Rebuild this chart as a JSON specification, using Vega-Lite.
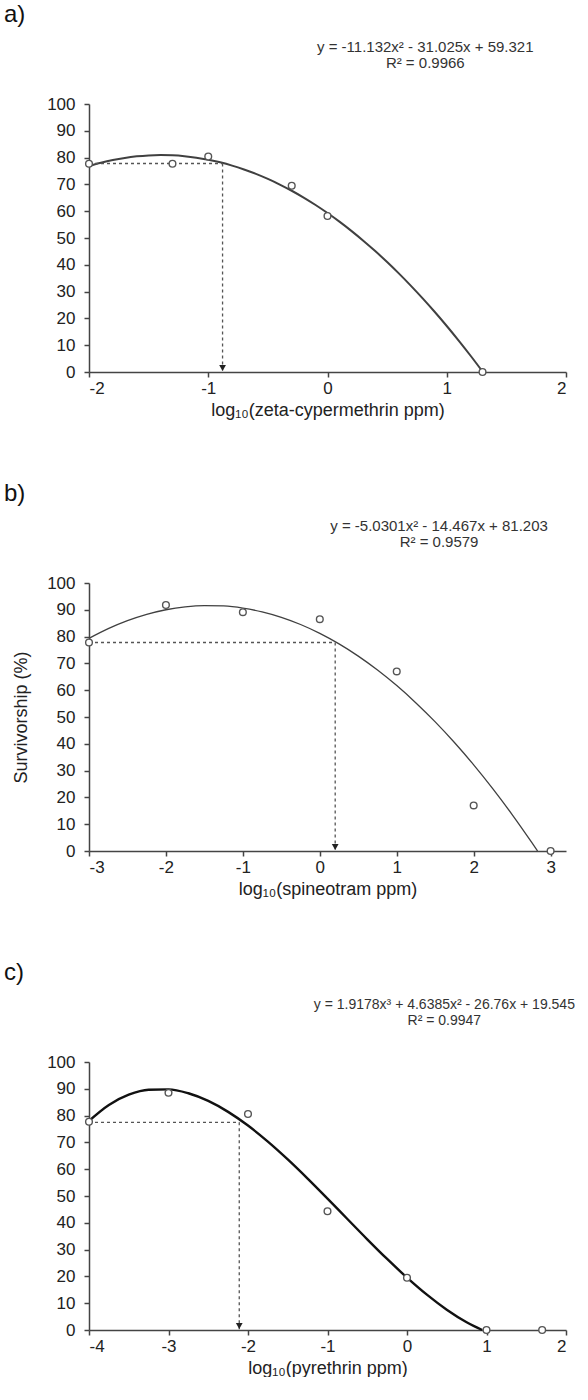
{
  "$schema": "https://vega.github.io/schema/vega-lite/v6.json",
  "padding": {"left": 3, "top": 3, "right": 0, "bottom": 0},
  "background": "white",
  "bounds": "flush",
  "spacing": 211,
  "config": {
    "view": {"stroke": null},
    "font": "Liberation Sans",
    "axis": {
      "grid": false,
      "domainColor": "#444444",
      "tickColor": "#444444",
      "domainWidth": 1.5,
      "tickWidth": 1.5,
      "tickSize": 5,
      "labelFont": "Liberation Sans",
      "labelFontSize": 17,
      "labelColor": "#222222",
      "titleFont": "Liberation Sans",
      "titleFontSize": 18,
      "titleFontWeight": "normal",
      "titleColor": "#222222",
      "labelExpr": "'' + datum.value"
    }
  },
  "vconcat": [
    {
      "width": 477,
      "height": 268,
      "encoding": {
        "x": {"field": "x", "type": "quantitative", "scale": {"domain": [-2, 2], "nice": false},
              "axis": {"values": [-2, -1, 0, 1, 2], "title": "log₁₀(zeta-cypermethrin ppm)", "labelPadding": 3, "titlePadding": 5}},
        "y": {"field": "y", "type": "quantitative", "scale": {"domain": [0, 100], "nice": false},
              "axis": {"values": [0, 10, 20, 30, 40, 50, 60, 70, 80, 90, 100], "title": null, "labelPadding": 9}}
      },
      "layer": [
        {
          "data": {"values": [
            {"x": -2.0, "y": 76.84}, {"x": -1.9, "y": 78.08}, {"x": -1.8, "y": 79.1}, {"x": -1.7, "y": 79.89},
            {"x": -1.6, "y": 80.46}, {"x": -1.5, "y": 80.81}, {"x": -1.4, "y": 80.94}, {"x": -1.3, "y": 80.84},
            {"x": -1.2, "y": 80.52}, {"x": -1.1, "y": 79.98}, {"x": -1.0, "y": 79.21}, {"x": -0.9, "y": 78.23},
            {"x": -0.8, "y": 77.02}, {"x": -0.7, "y": 75.58}, {"x": -0.6, "y": 73.93}, {"x": -0.5, "y": 72.05},
            {"x": -0.4, "y": 69.95}, {"x": -0.3, "y": 67.63}, {"x": -0.2, "y": 65.08}, {"x": -0.1, "y": 62.31},
            {"x": 0.0, "y": 59.32}, {"x": 0.1, "y": 56.11}, {"x": 0.2, "y": 52.67}, {"x": 0.3, "y": 49.01},
            {"x": 0.4, "y": 45.13}, {"x": 0.5, "y": 41.03}, {"x": 0.6, "y": 36.7}, {"x": 0.7, "y": 32.15},
            {"x": 0.8, "y": 27.38}, {"x": 0.9, "y": 22.38}, {"x": 1.0, "y": 17.16}, {"x": 1.1, "y": 11.72},
            {"x": 1.2, "y": 6.06}, {"x": 1.3, "y": 0.18}
          ]},
          "mark": {"type": "line", "interpolate": "monotone", "color": "#404040", "strokeWidth": 2}
        },
        {
          "data": {"values": [{"x": -2, "x2": -0.88, "y": 77.8}]},
          "mark": {"type": "rule", "strokeDash": [3, 3], "color": "#555555", "strokeWidth": 1.3},
          "encoding": {"x2": {"field": "x2"}}
        },
        {
          "data": {"values": [{"x": -0.88, "y": 77.8, "y2": 0}]},
          "mark": {"type": "rule", "strokeDash": [3, 3], "color": "#555555", "strokeWidth": 1.3},
          "encoding": {"y2": {"field": "y2"}}
        },
        {
          "data": {"values": [{"x": -0.88, "y": 0}]},
          "mark": {"type": "point", "shape": "triangle-down", "filled": true, "color": "#222222", "size": 45, "yOffset": -4, "opacity": 1}
        },
        {
          "data": {"values": [
            {"x": -2, "y": 77.7}, {"x": -1.3, "y": 77.7}, {"x": -1, "y": 80.4},
            {"x": -0.3, "y": 69.5}, {"x": 0, "y": 58.2}, {"x": 1.3, "y": 0}
          ]},
          "mark": {"type": "point", "shape": "circle", "filled": true, "fill": "white", "stroke": "#555555", "strokeWidth": 1.4, "size": 45, "opacity": 1}
        },
        {
          "data": {"values": [{"x": -2.713, "y": 133.2, "t": "a)"}]},
          "mark": {"type": "text", "align": "left", "baseline": "middle", "fontSize": 24, "font": "Liberation Sans", "color": "#111111"},
          "encoding": {"text": {"field": "t"}}
        },
        {
          "data": {"values": [
            {"x": 0.82, "y": 121.3, "t": "y = -11.132x² - 31.025x + 59.321"},
            {"x": 0.82, "y": 115.3, "t": "R² = 0.9966"}
          ]},
          "mark": {"type": "text", "align": "center", "baseline": "middle", "fontSize": 15, "font": "Liberation Sans", "color": "#333333"},
          "encoding": {"text": {"field": "t"}}
        }
      ]
    },
    {
      "width": 477,
      "height": 268,
      "encoding": {
        "x": {"field": "x", "type": "quantitative", "scale": {"domain": [-3, 3.2], "nice": false},
              "axis": {"values": [-3, -2, -1, 0, 1, 2, 3], "title": "log₁₀(spineotram ppm)", "labelPadding": 3, "titlePadding": 5}},
        "y": {"field": "y", "type": "quantitative", "scale": {"domain": [0, 100], "nice": false},
              "axis": {"values": [0, 10, 20, 30, 40, 50, 60, 70, 80, 90, 100], "title": "Survivorship (%)", "labelPadding": 9, "titlePadding": 16}}
      },
      "layer": [
        {
          "data": {"values": [
            {"x": -3.0, "y": 79.33}, {"x": -2.75, "y": 82.95}, {"x": -2.5, "y": 85.93}, {"x": -2.25, "y": 88.29},
            {"x": -2.0, "y": 90.02}, {"x": -1.75, "y": 91.12}, {"x": -1.5, "y": 91.59}, {"x": -1.25, "y": 91.43},
            {"x": -1.0, "y": 90.64}, {"x": -0.75, "y": 89.22}, {"x": -0.5, "y": 87.18}, {"x": -0.25, "y": 84.51},
            {"x": 0.0, "y": 81.2}, {"x": 0.25, "y": 77.27}, {"x": 0.5, "y": 72.71}, {"x": 0.75, "y": 67.52},
            {"x": 1.0, "y": 61.71}, {"x": 1.25, "y": 55.26}, {"x": 1.5, "y": 48.18}, {"x": 1.75, "y": 40.48},
            {"x": 2.0, "y": 32.15}, {"x": 2.25, "y": 23.19}, {"x": 2.5, "y": 13.6}, {"x": 2.75, "y": 3.38},
            {"x": 2.83, "y": 0}
          ]},
          "mark": {"type": "line", "interpolate": "monotone", "color": "#404040", "strokeWidth": 1.3}
        },
        {
          "data": {"values": [{"x": -3, "x2": 0.2, "y": 77.8}]},
          "mark": {"type": "rule", "strokeDash": [3, 3], "color": "#555555", "strokeWidth": 1.3},
          "encoding": {"x2": {"field": "x2"}}
        },
        {
          "data": {"values": [{"x": 0.2, "y": 77.8, "y2": 0}]},
          "mark": {"type": "rule", "strokeDash": [3, 3], "color": "#555555", "strokeWidth": 1.3},
          "encoding": {"y2": {"field": "y2"}}
        },
        {
          "data": {"values": [{"x": 0.2, "y": 0}]},
          "mark": {"type": "point", "shape": "triangle-down", "filled": true, "color": "#222222", "size": 45, "yOffset": -4, "opacity": 1}
        },
        {
          "data": {"values": [
            {"x": -3, "y": 77.8}, {"x": -2, "y": 91.8}, {"x": -1, "y": 89.1},
            {"x": 0, "y": 86.5}, {"x": 1, "y": 67}, {"x": 2, "y": 17}, {"x": 3, "y": 0}
          ]},
          "mark": {"type": "point", "shape": "circle", "filled": true, "fill": "white", "stroke": "#555555", "strokeWidth": 1.4, "size": 45, "opacity": 1}
        },
        {
          "data": {"values": [{"x": -4.105, "y": 133.2, "t": "b)"}]},
          "mark": {"type": "text", "align": "left", "baseline": "middle", "fontSize": 24, "font": "Liberation Sans", "color": "#111111"},
          "encoding": {"text": {"field": "t"}}
        },
        {
          "data": {"values": [
            {"x": 1.55, "y": 121.3, "t": "y = -5.0301x² - 14.467x + 81.203"},
            {"x": 1.55, "y": 115.3, "t": "R² = 0.9579"}
          ]},
          "mark": {"type": "text", "align": "center", "baseline": "middle", "fontSize": 15, "font": "Liberation Sans", "color": "#333333"},
          "encoding": {"text": {"field": "t"}}
        }
      ]
    },
    {
      "width": 477,
      "height": 268,
      "encoding": {
        "x": {"field": "x", "type": "quantitative", "scale": {"domain": [-4, 2], "nice": false},
              "axis": {"values": [-4, -3, -2, -1, 0, 1, 2], "title": "log₁₀(pyrethrin ppm)", "labelPadding": 3, "titlePadding": 5}},
        "y": {"field": "y", "type": "quantitative", "scale": {"domain": [0, 100], "nice": false},
              "axis": {"values": [0, 10, 20, 30, 40, 50, 60, 70, 80, 90, 100], "title": null, "labelPadding": 9}}
      },
      "layer": [
        {
          "data": {"values": [
            {"x": -4.0, "y": 78.06}, {"x": -3.75, "y": 83.99}, {"x": -3.5, "y": 87.8}, {"x": -3.25, "y": 89.67},
            {"x": -3.0, "y": 89.79}, {"x": -2.75, "y": 88.33}, {"x": -2.5, "y": 85.47}, {"x": -2.25, "y": 81.39},
            {"x": -2.0, "y": 76.28}, {"x": -1.75, "y": 70.3}, {"x": -1.5, "y": 63.65}, {"x": -1.25, "y": 56.5},
            {"x": -1.0, "y": 49.03}, {"x": -0.75, "y": 41.42}, {"x": -0.5, "y": 33.85}, {"x": -0.25, "y": 26.5},
            {"x": 0.0, "y": 19.55}, {"x": 0.25, "y": 13.18}, {"x": 0.5, "y": 7.57}, {"x": 0.75, "y": 2.89},
            {"x": 0.85, "y": 1.33}, {"x": 0.946, "y": 0}
          ]},
          "mark": {"type": "line", "interpolate": "monotone", "color": "#111111", "strokeWidth": 2.4}
        },
        {
          "data": {"values": [{"x": -4, "x2": -2.11, "y": 77.5}]},
          "mark": {"type": "rule", "strokeDash": [3, 3], "color": "#555555", "strokeWidth": 1.3},
          "encoding": {"x2": {"field": "x2"}}
        },
        {
          "data": {"values": [{"x": -2.11, "y": 77.5, "y2": 0}]},
          "mark": {"type": "rule", "strokeDash": [3, 3], "color": "#555555", "strokeWidth": 1.3},
          "encoding": {"y2": {"field": "y2"}}
        },
        {
          "data": {"values": [{"x": -2.11, "y": 0}]},
          "mark": {"type": "point", "shape": "triangle-down", "filled": true, "color": "#222222", "size": 45, "yOffset": -4, "opacity": 1}
        },
        {
          "data": {"values": [
            {"x": -4, "y": 77.7}, {"x": -3, "y": 88.5}, {"x": -2, "y": 80.6},
            {"x": -1, "y": 44.3}, {"x": 0, "y": 19.5}, {"x": 1, "y": 0}, {"x": 1.7, "y": 0}
          ]},
          "mark": {"type": "point", "shape": "circle", "filled": true, "fill": "white", "stroke": "#555555", "strokeWidth": 1.4, "size": 45, "opacity": 1}
        },
        {
          "data": {"values": [{"x": -5.069, "y": 133.2, "t": "c)"}]},
          "mark": {"type": "text", "align": "left", "baseline": "middle", "fontSize": 24, "font": "Liberation Sans", "color": "#111111"},
          "encoding": {"text": {"field": "t"}}
        },
        {
          "data": {"values": [
            {"x": 0.47, "y": 121.3, "t": "y = 1.9178x³ + 4.6385x² - 26.76x + 19.545"},
            {"x": 0.47, "y": 115.3, "t": "R² = 0.9947"}
          ]},
          "mark": {"type": "text", "align": "center", "baseline": "middle", "fontSize": 14, "font": "Liberation Sans", "color": "#333333"},
          "encoding": {"text": {"field": "t"}}
        }
      ]
    }
  ]
}
